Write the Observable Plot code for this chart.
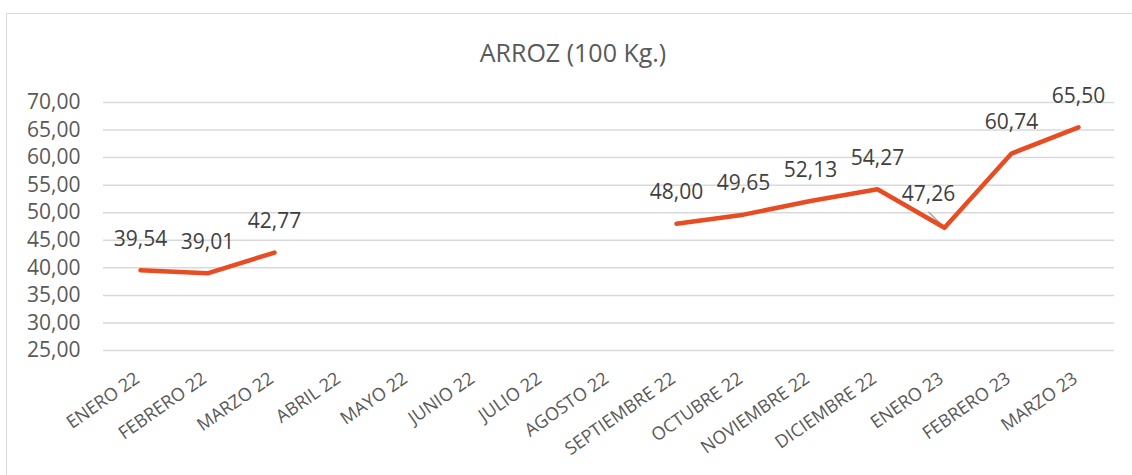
<!DOCTYPE html>
<html>
<head>
<meta charset="utf-8">
<script src="https://cdn.jsdelivr.net/npm/d3@7"></script>
<script src="https://cdn.jsdelivr.net/npm/@observablehq/plot@0.6"></script>
<style>
  body { margin: 0; background: #fff; font-family: "Open Sans", sans-serif; }
  #wrap { position: relative; width: 1132px; height: 475px; overflow: hidden; }
  #frame { position: absolute; left: 6px; top: 13px; width: 1130px; height: 480px; border: 1px solid #d9d9d9; box-sizing: border-box; }
  #title { position: absolute; left: 0; top: 35px; width: 1146px; text-align: center; font-size: 25px; color: #595959; }
  #chart { position: absolute; left: 0; top: 0; }
</style>
</head>
<body>
<div id="wrap">
  <div id="frame"></div>
  <div id="title">ARROZ (100 Kg.)</div>
  <div id="chart"></div>
</div>
<script>
const months = ["ENERO 22","FEBRERO 22","MARZO 22","ABRIL 22","MAYO 22","JUNIO 22","JULIO 22","AGOSTO 22","SEPTIEMBRE 22","OCTUBRE 22","NOVIEMBRE 22","DICIEMBRE 22","ENERO 23","FEBRERO 23","MARZO 23"];
const prices = [39.54, 39.01, 42.77, null, null, null, null, null, 48.00, 49.65, 52.13, 54.27, 47.26, 60.74, 65.50];
const yTicks = [25, 30, 35, 40, 45, 50, 55, 60, 65, 70];

const data = months.map((m, i) => ({month: m, price: prices[i]}));
const leaderIdx = 12;
const normalLabels = data.filter((d, i) => d.price != null && i !== leaderIdx);
const leaderLabel = [data[leaderIdx]];
const fmt = v => v.toFixed(2).replace(".", ",");

const chart = Plot.plot({
  width: 1132,
  height: 475,
  marginTop: 102,
  marginBottom: 125,
  marginLeft: 103,
  marginRight: 18,
  style: {fontFamily: "Open Sans, sans-serif", background: "transparent", overflow: "visible"},
  x: {type: "point", domain: months, padding: 0.5, label: null},
  y: {domain: [25, 70], label: null},
  marks: [
    Plot.gridY(yTicks, {stroke: "#d9d9d9", strokeOpacity: 1, strokeWidth: 1.5}),
    Plot.axisY(yTicks, {tickSize: 0, tickPadding: 23, tickFormat: fmt, fontSize: 21, fill: "#595959", label: null}),
    Plot.axisX({tickSize: 0, tickRotate: -35, tickPadding: 26, fontSize: 18, fill: "#595959", label: null, dx: -3}),
    Plot.vector(leaderLabel, {
      x: "month", y: "price", rotate: -45, length: 22, anchor: "start",
      stroke: "#a6a6a6", strokeWidth: 1.5,
      shape: {draw(context, l) { context.moveTo(0, 0); context.lineTo(0, -l); }}
    }),
    Plot.line(data, {x: "month", y: "price", stroke: "#E84C22", strokeWidth: 4.5, strokeLinecap: "round", strokeLinejoin: "round"}),
    Plot.text(normalLabels, {
      x: "month", y: "price", text: d => fmt(d.price),
      dy: -31, fontSize: 21, fill: "#404040"
    }),
    Plot.text(leaderLabel, {
      x: "month", y: "price", text: d => fmt(d.price),
      dx: -16, dy: -34, fontSize: 21, fill: "#404040"
    })
  ]
});
document.getElementById("chart").appendChild(chart);
</script>
</body>
</html>
